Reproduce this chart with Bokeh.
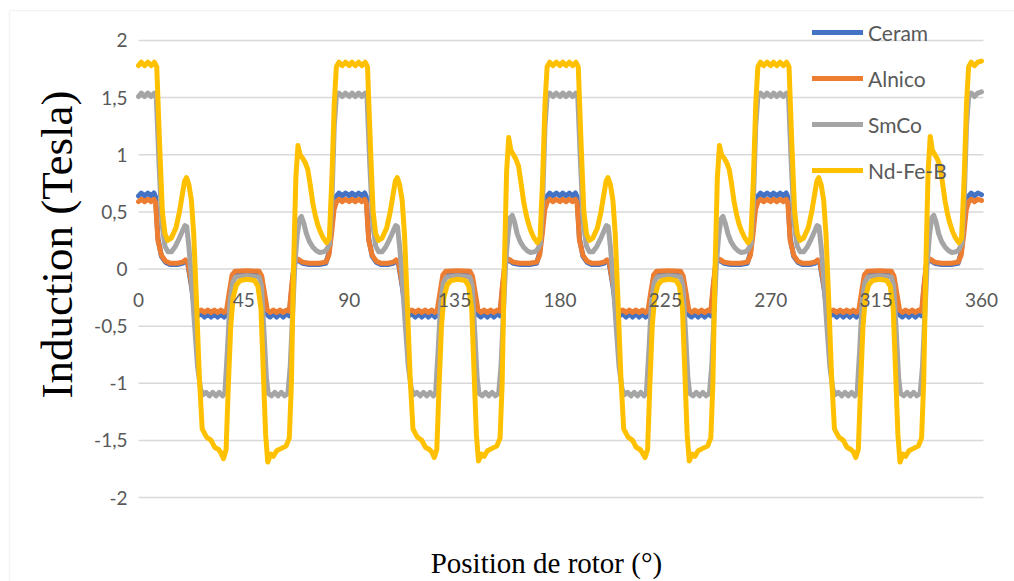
from math import pi

from bokeh.core.properties import value
from bokeh.embed import file_html
from bokeh.models import BoxAnnotation, Label, Legend, LegendItem, Range1d
from bokeh.plotting import figure
from bokeh.resources import INLINE

# Air-gap induction (Tesla) versus rotor position (degrees), one list of
# (position, induction) pairs per magnet material.
CERAM = [
    (0.0, 0.64), (1.2, 0.665), (2.6, 0.64), (4.0, 0.665), (5.4, 0.64), (6.6, 0.665), (7.3, 0.63),
    (8.3, 0.27), (9.8, 0.11), (11.5, 0.06), (13.5, 0.04), (16.5, 0.04), (18.8, 0.05), (20.0, 0.07), (21.0, 0.05),
    (22.6, -0.15), (24.0, -0.36), (25.4, -0.41), (26.8, -0.39), (28.2, -0.42), (29.6, -0.39), (31.0, -0.42),
    (32.4, -0.39), (33.8, -0.42), (35.2, -0.39), (36.6, -0.42), (37.6, -0.40),
    (38.8, -0.25), (40.0, -0.08), (41.2, -0.05), (46.5, -0.045), (51.5, -0.05), (52.6, -0.09), (53.9, -0.26), (55.0, -0.40),
    (56.2, -0.42), (57.6, -0.39), (59.0, -0.42), (60.4, -0.39), (61.8, -0.42), (63.2, -0.39), (64.4, -0.41),
    (65.4, -0.18), (66.5, 0.04), (67.6, 0.08), (68.6, 0.07), (70.0, 0.05), (73.0, 0.04), (77.0, 0.04), (80.0, 0.05),
    (81.3, 0.14), (82.4, 0.35), (83.5, 0.58), (84.6, 0.64), (85.6, 0.665), (87.0, 0.64), (88.4, 0.665),
    (90.0, 0.64), (91.2, 0.665), (92.6, 0.64), (94.0, 0.665), (95.4, 0.64), (96.6, 0.665), (97.3, 0.63),
    (98.3, 0.27), (99.8, 0.11), (101.5, 0.06), (103.5, 0.04), (106.5, 0.04), (108.8, 0.05), (110.0, 0.07), (111.0, 0.05),
    (112.6, -0.15), (114.0, -0.36), (115.4, -0.41), (116.8, -0.39), (118.2, -0.42), (119.6, -0.39), (121.0, -0.42),
    (122.4, -0.39), (123.8, -0.42), (125.2, -0.39), (126.6, -0.42), (127.6, -0.40),
    (128.8, -0.25), (130.0, -0.08), (131.2, -0.05), (136.5, -0.045), (141.5, -0.05), (142.6, -0.09), (143.9, -0.26), (145.0, -0.40),
    (146.2, -0.42), (147.6, -0.39), (149.0, -0.42), (150.4, -0.39), (151.8, -0.42), (153.2, -0.39), (154.4, -0.41),
    (155.4, -0.18), (156.5, 0.04), (157.6, 0.08), (158.6, 0.07), (160.0, 0.05), (163.0, 0.04), (167.0, 0.04), (170.0, 0.05),
    (171.3, 0.14), (172.4, 0.35), (173.5, 0.58), (174.6, 0.64), (175.6, 0.665), (177.0, 0.64), (178.4, 0.665),
    (180.0, 0.64), (181.2, 0.665), (182.6, 0.64), (184.0, 0.665), (185.4, 0.64), (186.6, 0.665), (187.3, 0.63),
    (188.3, 0.27), (189.8, 0.11), (191.5, 0.06), (193.5, 0.04), (196.5, 0.04), (198.8, 0.05), (200.0, 0.07), (201.0, 0.05),
    (202.6, -0.15), (204.0, -0.36), (205.4, -0.41), (206.8, -0.39), (208.2, -0.42), (209.6, -0.39), (211.0, -0.42),
    (212.4, -0.39), (213.8, -0.42), (215.2, -0.39), (216.6, -0.42), (217.6, -0.40),
    (218.8, -0.25), (220.0, -0.08), (221.2, -0.05), (226.5, -0.045), (231.5, -0.05), (232.6, -0.09), (233.9, -0.26), (235.0, -0.40),
    (236.2, -0.42), (237.6, -0.39), (239.0, -0.42), (240.4, -0.39), (241.8, -0.42), (243.2, -0.39), (244.4, -0.41),
    (245.4, -0.18), (246.5, 0.04), (247.6, 0.08), (248.6, 0.07), (250.0, 0.05), (253.0, 0.04), (257.0, 0.04), (260.0, 0.05),
    (261.3, 0.14), (262.4, 0.35), (263.5, 0.58), (264.6, 0.64), (265.6, 0.665), (267.0, 0.64), (268.4, 0.665),
    (270.0, 0.64), (271.2, 0.665), (272.6, 0.64), (274.0, 0.665), (275.4, 0.64), (276.6, 0.665), (277.3, 0.63),
    (278.3, 0.27), (279.8, 0.11), (281.5, 0.06), (283.5, 0.04), (286.5, 0.04), (288.8, 0.05), (290.0, 0.07), (291.0, 0.05),
    (292.6, -0.15), (294.0, -0.36), (295.4, -0.41), (296.8, -0.39), (298.2, -0.42), (299.6, -0.39), (301.0, -0.42),
    (302.4, -0.39), (303.8, -0.42), (305.2, -0.39), (306.6, -0.42), (307.6, -0.40),
    (308.8, -0.25), (310.0, -0.08), (311.2, -0.05), (316.5, -0.045), (321.5, -0.05), (322.6, -0.09), (323.9, -0.26), (325.0, -0.40),
    (326.2, -0.42), (327.6, -0.39), (329.0, -0.42), (330.4, -0.39), (331.8, -0.42), (333.2, -0.39), (334.4, -0.41),
    (335.4, -0.18), (336.5, 0.04), (337.6, 0.08), (338.6, 0.07), (340.0, 0.05), (343.0, 0.04), (347.0, 0.04), (350.0, 0.05),
    (351.3, 0.14), (352.4, 0.35), (353.5, 0.58), (354.6, 0.64), (355.6, 0.665), (357.0, 0.64), (358.4, 0.665), (360.0, 0.65),
]

ALNICO = [
    (0.0, 0.59), (1.2, 0.61), (2.6, 0.59), (4.0, 0.61), (5.4, 0.59), (6.6, 0.61), (7.3, 0.58),
    (8.3, 0.25), (9.8, 0.12), (11.5, 0.07), (13.5, 0.05), (16.5, 0.05), (18.8, 0.06), (20.0, 0.08), (21.0, 0.06),
    (22.6, -0.13), (24.0, -0.32), (25.4, -0.37), (26.8, -0.36), (28.2, -0.38), (29.6, -0.36), (31.0, -0.38),
    (32.4, -0.36), (33.8, -0.38), (35.2, -0.36), (36.6, -0.38), (37.6, -0.36),
    (38.8, -0.20), (40.0, -0.05), (41.2, -0.02), (46.5, -0.015), (51.5, -0.02), (52.6, -0.06), (53.9, -0.22), (55.0, -0.36),
    (56.2, -0.38), (57.6, -0.36), (59.0, -0.38), (60.4, -0.36), (61.8, -0.38), (63.2, -0.36), (64.4, -0.37),
    (65.4, -0.15), (66.5, 0.05), (67.6, 0.09), (68.6, 0.08), (70.0, 0.06), (73.0, 0.05), (77.0, 0.05), (80.0, 0.06),
    (81.3, 0.12), (82.4, 0.30), (83.5, 0.52), (84.6, 0.59), (85.6, 0.61), (87.0, 0.59), (88.4, 0.61),
    (90.0, 0.59), (91.2, 0.61), (92.6, 0.59), (94.0, 0.61), (95.4, 0.59), (96.6, 0.61), (97.3, 0.58),
    (98.3, 0.25), (99.8, 0.12), (101.5, 0.07), (103.5, 0.05), (106.5, 0.05), (108.8, 0.06), (110.0, 0.08), (111.0, 0.06),
    (112.6, -0.13), (114.0, -0.32), (115.4, -0.37), (116.8, -0.36), (118.2, -0.38), (119.6, -0.36), (121.0, -0.38),
    (122.4, -0.36), (123.8, -0.38), (125.2, -0.36), (126.6, -0.38), (127.6, -0.36),
    (128.8, -0.20), (130.0, -0.05), (131.2, -0.02), (136.5, -0.015), (141.5, -0.02), (142.6, -0.06), (143.9, -0.22), (145.0, -0.36),
    (146.2, -0.38), (147.6, -0.36), (149.0, -0.38), (150.4, -0.36), (151.8, -0.38), (153.2, -0.36), (154.4, -0.37),
    (155.4, -0.15), (156.5, 0.05), (157.6, 0.09), (158.6, 0.08), (160.0, 0.06), (163.0, 0.05), (167.0, 0.05), (170.0, 0.06),
    (171.3, 0.12), (172.4, 0.30), (173.5, 0.52), (174.6, 0.59), (175.6, 0.61), (177.0, 0.59), (178.4, 0.61),
    (180.0, 0.59), (181.2, 0.61), (182.6, 0.59), (184.0, 0.61), (185.4, 0.59), (186.6, 0.61), (187.3, 0.58),
    (188.3, 0.25), (189.8, 0.12), (191.5, 0.07), (193.5, 0.05), (196.5, 0.05), (198.8, 0.06), (200.0, 0.08), (201.0, 0.06),
    (202.6, -0.13), (204.0, -0.32), (205.4, -0.37), (206.8, -0.36), (208.2, -0.38), (209.6, -0.36), (211.0, -0.38),
    (212.4, -0.36), (213.8, -0.38), (215.2, -0.36), (216.6, -0.38), (217.6, -0.36),
    (218.8, -0.20), (220.0, -0.05), (221.2, -0.02), (226.5, -0.015), (231.5, -0.02), (232.6, -0.06), (233.9, -0.22), (235.0, -0.36),
    (236.2, -0.38), (237.6, -0.36), (239.0, -0.38), (240.4, -0.36), (241.8, -0.38), (243.2, -0.36), (244.4, -0.37),
    (245.4, -0.15), (246.5, 0.05), (247.6, 0.09), (248.6, 0.08), (250.0, 0.06), (253.0, 0.05), (257.0, 0.05), (260.0, 0.06),
    (261.3, 0.12), (262.4, 0.30), (263.5, 0.52), (264.6, 0.59), (265.6, 0.61), (267.0, 0.59), (268.4, 0.61),
    (270.0, 0.59), (271.2, 0.61), (272.6, 0.59), (274.0, 0.61), (275.4, 0.59), (276.6, 0.61), (277.3, 0.58),
    (278.3, 0.25), (279.8, 0.12), (281.5, 0.07), (283.5, 0.05), (286.5, 0.05), (288.8, 0.06), (290.0, 0.08), (291.0, 0.06),
    (292.6, -0.13), (294.0, -0.32), (295.4, -0.37), (296.8, -0.36), (298.2, -0.38), (299.6, -0.36), (301.0, -0.38),
    (302.4, -0.36), (303.8, -0.38), (305.2, -0.36), (306.6, -0.38), (307.6, -0.36),
    (308.8, -0.20), (310.0, -0.05), (311.2, -0.02), (316.5, -0.015), (321.5, -0.02), (322.6, -0.06), (323.9, -0.22), (325.0, -0.36),
    (326.2, -0.38), (327.6, -0.36), (329.0, -0.38), (330.4, -0.36), (331.8, -0.38), (333.2, -0.36), (334.4, -0.37),
    (335.4, -0.15), (336.5, 0.05), (337.6, 0.09), (338.6, 0.08), (340.0, 0.06), (343.0, 0.05), (347.0, 0.05), (350.0, 0.06),
    (351.3, 0.12), (352.4, 0.30), (353.5, 0.52), (354.6, 0.59), (355.6, 0.61), (357.0, 0.59), (358.4, 0.61), (360.0, 0.60),
]

SMCO = [
    (0.0, 1.51), (1.2, 1.54), (2.6, 1.51), (4.0, 1.54), (5.4, 1.51), (6.8, 1.54), (7.6, 1.50),
    (8.8, 0.90), (10.0, 0.40), (11.3, 0.20), (12.6, 0.15), (14.0, 0.15), (15.5, 0.19), (17.0, 0.25), (18.5, 0.32),
    (19.8, 0.38), (20.6, 0.37), (21.5, 0.20), (22.5, -0.05), (23.8, -0.45), (25.2, -0.85), (26.5, -1.05),
    (27.5, -1.10), (28.9, -1.08), (30.3, -1.11), (31.7, -1.08), (33.1, -1.11), (34.5, -1.08), (35.9, -1.11), (36.9, -1.08),
    (38.0, -0.70), (39.0, -0.30), (40.2, -0.12), (41.5, -0.07), (46.5, -0.06), (51.5, -0.07), (52.5, -0.15), (53.6, -0.55), (54.6, -0.95),
    (55.4, -1.09), (56.8, -1.11), (58.2, -1.08), (59.6, -1.11), (61.0, -1.08), (62.4, -1.11), (63.8, -1.09),
    (64.8, -0.85), (65.8, -0.40), (66.8, 0.05), (67.8, 0.30), (68.8, 0.44), (69.6, 0.46), (70.6, 0.40), (71.7, 0.31),
    (73.0, 0.24), (74.5, 0.19), (76.0, 0.16), (77.4, 0.145), (79.0, 0.15), (80.2, 0.165), (81.6, 0.22),
    (82.6, 0.60), (83.6, 1.25), (84.5, 1.51), (85.6, 1.54), (87.0, 1.51), (88.4, 1.54),
    (90.0, 1.51), (91.2, 1.54), (92.6, 1.51), (94.0, 1.54), (95.4, 1.51), (96.8, 1.54), (97.6, 1.50),
    (98.8, 0.90), (100.0, 0.40), (101.3, 0.20), (102.6, 0.15), (104.0, 0.15), (105.5, 0.19), (107.0, 0.25), (108.5, 0.32),
    (109.8, 0.38), (110.6, 0.37), (111.5, 0.20), (112.5, -0.05), (113.8, -0.45), (115.2, -0.85), (116.5, -1.05),
    (117.5, -1.10), (118.9, -1.08), (120.3, -1.11), (121.7, -1.08), (123.1, -1.11), (124.5, -1.08), (125.9, -1.11), (126.9, -1.08),
    (128.0, -0.70), (129.0, -0.30), (130.2, -0.12), (131.5, -0.07), (136.5, -0.06), (141.5, -0.07), (142.5, -0.15), (143.6, -0.55), (144.6, -0.95),
    (145.4, -1.09), (146.8, -1.11), (148.2, -1.08), (149.6, -1.11), (151.0, -1.08), (152.4, -1.11), (153.8, -1.09),
    (154.8, -0.85), (155.8, -0.40), (156.8, 0.05), (157.8, 0.30), (158.8, 0.45), (159.6, 0.47), (160.6, 0.41), (161.7, 0.31),
    (163.0, 0.24), (164.5, 0.19), (166.0, 0.16), (167.4, 0.145), (169.0, 0.15), (170.2, 0.165), (171.6, 0.22),
    (172.6, 0.60), (173.6, 1.25), (174.5, 1.51), (175.6, 1.54), (177.0, 1.51), (178.4, 1.54),
    (180.0, 1.51), (181.2, 1.54), (182.6, 1.51), (184.0, 1.54), (185.4, 1.51), (186.8, 1.54), (187.6, 1.50),
    (188.8, 0.90), (190.0, 0.40), (191.3, 0.20), (192.6, 0.15), (194.0, 0.15), (195.5, 0.19), (197.0, 0.25), (198.5, 0.32),
    (199.8, 0.38), (200.6, 0.37), (201.5, 0.20), (202.5, -0.05), (203.8, -0.45), (205.2, -0.85), (206.5, -1.05),
    (207.5, -1.10), (208.9, -1.08), (210.3, -1.11), (211.7, -1.08), (213.1, -1.11), (214.5, -1.08), (215.9, -1.11), (216.9, -1.08),
    (218.0, -0.70), (219.0, -0.30), (220.2, -0.12), (221.5, -0.07), (226.5, -0.06), (231.5, -0.07), (232.5, -0.15), (233.6, -0.55), (234.6, -0.95),
    (235.4, -1.09), (236.8, -1.11), (238.2, -1.08), (239.6, -1.11), (241.0, -1.08), (242.4, -1.11), (243.8, -1.09),
    (244.8, -0.85), (245.8, -0.40), (246.8, 0.05), (247.8, 0.30), (248.8, 0.44), (249.6, 0.46), (250.6, 0.40), (251.7, 0.31),
    (253.0, 0.24), (254.5, 0.19), (256.0, 0.16), (257.4, 0.145), (259.0, 0.15), (260.2, 0.165), (261.6, 0.22),
    (262.6, 0.60), (263.6, 1.25), (264.5, 1.51), (265.6, 1.54), (267.0, 1.51), (268.4, 1.54),
    (270.0, 1.51), (271.2, 1.54), (272.6, 1.51), (274.0, 1.54), (275.4, 1.51), (276.8, 1.54), (277.6, 1.50),
    (278.8, 0.90), (280.0, 0.40), (281.3, 0.20), (282.6, 0.15), (284.0, 0.15), (285.5, 0.19), (287.0, 0.25), (288.5, 0.32),
    (289.8, 0.38), (290.6, 0.37), (291.5, 0.20), (292.5, -0.05), (293.8, -0.45), (295.2, -0.85), (296.5, -1.05),
    (297.5, -1.10), (298.9, -1.08), (300.3, -1.11), (301.7, -1.08), (303.1, -1.11), (304.5, -1.08), (305.9, -1.11), (306.9, -1.08),
    (308.0, -0.70), (309.0, -0.30), (310.2, -0.12), (311.5, -0.07), (316.5, -0.06), (321.5, -0.07), (322.5, -0.15), (323.6, -0.55), (324.6, -0.95),
    (325.4, -1.09), (326.8, -1.11), (328.2, -1.08), (329.6, -1.11), (331.0, -1.08), (332.4, -1.11), (333.8, -1.09),
    (334.8, -0.85), (335.8, -0.40), (336.8, 0.05), (337.8, 0.30), (338.8, 0.45), (339.6, 0.47), (340.6, 0.41), (341.7, 0.31),
    (343.0, 0.24), (344.5, 0.19), (346.0, 0.16), (347.4, 0.145), (349.0, 0.15), (350.2, 0.165), (351.6, 0.22),
    (352.6, 0.60), (353.6, 1.25), (354.5, 1.51), (355.6, 1.54), (357.0, 1.51), (358.4, 1.54), (360.0, 1.55),
]

ND_FE_B = [
    (0.0, 1.78), (1.2, 1.81), (2.6, 1.78), (4.0, 1.81), (5.4, 1.78), (6.8, 1.81), (7.8, 1.77),
    (9.0, 1.10), (10.2, 0.50), (11.3, 0.31), (12.5, 0.25), (14.0, 0.27), (16.0, 0.36), (17.5, 0.50), (18.7, 0.65),
    (19.7, 0.77), (20.5, 0.80), (21.5, 0.74), (22.6, 0.60), (23.6, 0.30), (24.8, -0.30), (26.0, -0.95), (27.2, -1.40),
    (29.0, -1.47), (31.0, -1.50), (32.5, -1.56), (34.2, -1.58), (35.2, -1.61), (36.3, -1.66), (37.4, -1.58),
    (38.4, -1.00), (39.4, -0.50), (40.4, -0.25), (41.8, -0.14), (43.5, -0.10), (46.5, -0.09), (49.5, -0.10),
    (51.0, -0.15), (52.3, -0.35), (53.3, -0.90), (54.3, -1.45),
    (55.2, -1.69), (56.5, -1.62), (57.6, -1.64), (59.0, -1.59), (61.0, -1.57), (63.0, -1.55), (64.4, -1.48),
    (65.3, -1.00), (66.2, 0.00), (67.2, 0.80), (68.1, 1.08), (69.0, 1.00), (70.1, 0.97), (71.2, 0.93), (72.3, 0.87),
    (73.3, 0.74), (74.4, 0.58), (75.5, 0.47), (76.5, 0.39), (77.6, 0.33), (78.7, 0.28), (80.3, 0.23), (81.5, 0.27),
    (82.6, 0.80), (83.6, 1.45), (84.5, 1.77), (85.6, 1.81), (87.0, 1.78), (88.4, 1.81),
    (90.0, 1.78), (91.2, 1.81), (92.6, 1.78), (94.0, 1.81), (95.4, 1.78), (96.8, 1.81), (97.8, 1.77),
    (99.0, 1.10), (100.2, 0.50), (101.3, 0.31), (102.5, 0.25), (104.0, 0.27), (106.0, 0.36), (107.5, 0.50), (108.7, 0.65),
    (109.7, 0.77), (110.5, 0.80), (111.5, 0.74), (112.6, 0.60), (113.6, 0.30), (114.8, -0.30), (116.0, -0.95), (117.2, -1.40),
    (119.0, -1.47), (121.0, -1.50), (122.5, -1.56), (124.2, -1.58), (125.2, -1.60), (126.3, -1.65), (127.4, -1.58),
    (128.4, -1.00), (129.4, -0.50), (130.4, -0.25), (131.8, -0.14), (133.5, -0.10), (136.5, -0.09), (139.5, -0.10),
    (141.0, -0.15), (142.3, -0.35), (143.3, -0.90), (144.3, -1.45),
    (145.2, -1.68), (146.5, -1.62), (147.6, -1.64), (149.0, -1.59), (151.0, -1.57), (153.0, -1.55), (154.4, -1.48),
    (155.3, -1.00), (156.2, 0.00), (157.2, 0.85), (158.1, 1.15), (159.0, 1.04), (160.1, 1.00), (161.2, 0.96), (162.3, 0.90),
    (163.3, 0.76), (164.4, 0.60), (165.5, 0.48), (166.5, 0.40), (167.6, 0.33), (168.7, 0.28), (170.3, 0.23), (171.5, 0.27),
    (172.6, 0.80), (173.6, 1.45), (174.5, 1.77), (175.6, 1.81), (177.0, 1.78), (178.4, 1.81),
    (180.0, 1.78), (181.2, 1.81), (182.6, 1.78), (184.0, 1.81), (185.4, 1.78), (186.8, 1.81), (187.8, 1.77),
    (189.0, 1.10), (190.2, 0.50), (191.3, 0.31), (192.5, 0.25), (194.0, 0.27), (196.0, 0.36), (197.5, 0.50), (198.7, 0.65),
    (199.7, 0.77), (200.5, 0.80), (201.5, 0.74), (202.6, 0.60), (203.6, 0.30), (204.8, -0.30), (206.0, -0.95), (207.2, -1.40),
    (209.0, -1.47), (211.0, -1.50), (212.5, -1.56), (214.2, -1.58), (215.2, -1.61), (216.3, -1.65), (217.4, -1.58),
    (218.4, -1.00), (219.4, -0.50), (220.4, -0.25), (221.8, -0.14), (223.5, -0.10), (226.5, -0.09), (229.5, -0.10),
    (231.0, -0.15), (232.3, -0.35), (233.3, -0.90), (234.3, -1.45),
    (235.2, -1.68), (236.5, -1.62), (237.6, -1.64), (239.0, -1.59), (241.0, -1.57), (243.0, -1.55), (244.4, -1.48),
    (245.3, -1.00), (246.2, 0.00), (247.2, 0.80), (248.1, 1.08), (249.0, 1.00), (250.1, 0.97), (251.2, 0.93), (252.3, 0.87),
    (253.3, 0.74), (254.4, 0.58), (255.5, 0.47), (256.5, 0.39), (257.6, 0.33), (258.7, 0.28), (260.3, 0.23), (261.5, 0.27),
    (262.6, 0.80), (263.6, 1.45), (264.5, 1.77), (265.6, 1.81), (267.0, 1.78), (268.4, 1.81),
    (270.0, 1.78), (271.2, 1.81), (272.6, 1.78), (274.0, 1.81), (275.4, 1.78), (276.8, 1.81), (277.8, 1.77),
    (279.0, 1.10), (280.2, 0.50), (281.3, 0.31), (282.5, 0.25), (284.0, 0.27), (286.0, 0.36), (287.5, 0.50), (288.7, 0.65),
    (289.7, 0.77), (290.5, 0.80), (291.5, 0.74), (292.6, 0.60), (293.6, 0.30), (294.8, -0.30), (296.0, -0.95), (297.2, -1.40),
    (299.0, -1.47), (301.0, -1.50), (302.5, -1.56), (304.2, -1.58), (305.2, -1.60), (306.3, -1.65), (307.4, -1.58),
    (308.4, -1.00), (309.4, -0.50), (310.4, -0.25), (311.8, -0.14), (313.5, -0.10), (316.5, -0.09), (319.5, -0.10),
    (321.0, -0.15), (322.3, -0.35), (323.3, -0.90), (324.3, -1.45),
    (325.2, -1.69), (326.5, -1.62), (327.6, -1.64), (329.0, -1.59), (331.0, -1.57), (333.0, -1.55), (334.4, -1.48),
    (335.3, -1.00), (336.2, 0.00), (337.2, 0.85), (338.1, 1.16), (339.0, 1.04), (340.1, 1.00), (341.2, 0.96), (342.3, 0.90),
    (343.3, 0.76), (344.4, 0.60), (345.5, 0.48), (346.5, 0.40), (347.6, 0.33), (348.7, 0.28), (350.3, 0.23), (351.5, 0.27),
    (352.6, 0.80), (353.6, 1.45), (354.5, 1.77), (355.6, 1.81), (357.0, 1.78), (358.4, 1.81), (360.0, 1.82),
]

SERIES_NAMES = ["Ceram", "Alnico", "SmCo", "Nd-Fe-B"]
SERIES_DATA = [CERAM, ALNICO, SMCO, ND_FE_B]
SERIES_COLORS = ["#4472C4", "#ED7D31", "#A5A5A5", "#FFC000"]

X_TICKS = [0, 45, 90, 135, 180, 225, 270, 315, 360]
X_TICK_LABELS = ["0", "45", "90", "135", "180", "225", "270", "315", "360"]
Y_TICKS = [-2, -1.5, -1, -0.5, 0, 0.5, 1, 1.5, 2]
Y_TICK_LABELS = ["-2", "-1,5", "-1", "-0,5", "0", "0,5", "1", "1,5", "2"]
X_END = 360.85  # right edge of the plotting area, in degrees

X_TITLE = "Position de rotor (°)"
Y_TITLE = "Induction (Tesla)"

TICK_FONT = "Lato"
TITLE_FONT = "Liberation Serif"
TICK_COLOR = "#595959"
GRID_COLOR = "#D9D9D9"

# The frame fills the whole canvas so that the axis labels drawn along the
# zero line, the titles and the legend are never clipped.
p = figure(
    width=1014, height=581,
    output_backend="svg", toolbar_location=None,
    x_range=Range1d(-58.93, 374.09), y_range=Range1d(-2.7352, 2.3501),
    x_axis_type=None, y_axis_type=None,
    min_border=0, min_border_left=0, min_border_right=0,
    min_border_top=0, min_border_bottom=0,
)
p.outline_line_color = None
p.background_fill_color = "white"
p.border_fill_color = "white"
p.grid.visible = False

# horizontal gridlines across the plotting area
p.segment(x0=[0] * len(Y_TICKS), x1=[X_END] * len(Y_TICKS), y0=Y_TICKS, y1=Y_TICKS,
          line_color=GRID_COLOR, line_width=1.5)

# value-axis labels
p.text(x=[0] * len(Y_TICKS), y=Y_TICKS, text=Y_TICK_LABELS,
       x_offset=-11, text_align="right", text_baseline="middle",
       text_font=value(TICK_FONT), text_font_size=value("19px"),
       text_color=TICK_COLOR)

items = []
for name, data, color in zip(SERIES_NAMES, SERIES_DATA, SERIES_COLORS):
    xs = [pt[0] for pt in data]
    ys = [pt[1] for pt in data]
    r = p.line(xs, ys, line_color=color, line_width=5,
               line_join="round", line_cap="round")
    items.append(LegendItem(label=name, renderers=[r]))

# position labels just under the zero line, drawn over the curves
p.text(x=X_TICKS, y=[0] * len(X_TICKS), text=X_TICK_LABELS,
       y_offset=31, text_align="center", text_baseline="middle",
       text_font=value(TICK_FONT), text_font_size=value("19px"),
       text_color=TICK_COLOR)

legend = Legend(
    items=items, location=(812, 388),
    orientation="vertical",
    glyph_width=51, glyph_height=46, label_height=46,
    label_standoff=5, spacing=0, padding=0, margin=0,
    border_line_color=None, background_fill_alpha=0,
    label_text_font=TICK_FONT, label_text_font_size="21px",
    label_text_color=TICK_COLOR,
)
p.add_layout(legend)

# axis titles
p.add_layout(Label(
    x=-34.8, y=0.214, text=Y_TITLE, angle=pi / 2,
    text_font=TITLE_FONT, text_font_size="45px",
    text_color="black", text_align="center", text_baseline="middle",
))
p.add_layout(Label(
    x=174.2, y=-2.572, text=X_TITLE,
    text_font=TITLE_FONT, text_font_size="29px",
    text_color="black", text_align="center", text_baseline="middle",
))

# chart-area border (left and top edges fall inside the canvas)
p.add_layout(BoxAnnotation(
    left=-55.1, right=400, top=2.261, bottom=-3.5,
    fill_alpha=0, line_color=GRID_COLOR, line_width=1.3,
))

open("out.html", "w").write(file_html(p, INLINE))
